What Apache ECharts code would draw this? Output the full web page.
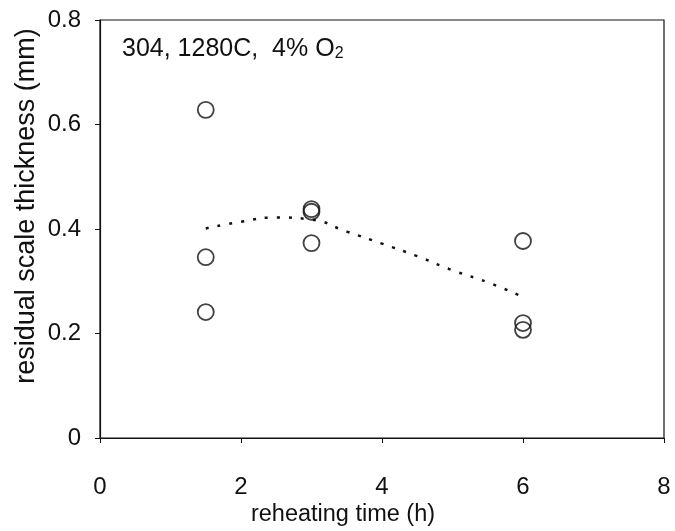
<!DOCTYPE html>
<html><head><meta charset="utf-8">
<script src="https://cdn.jsdelivr.net/npm/echarts@6/dist/echarts.min.js"></script>
<style>html,body{margin:0;padding:0;background:#fff}#c{width:675px;height:531px}</style>
</head><body><div id="c"></div>
<script>
// measured points
const pointsX = [1.5, 1.5, 1.5, 3, 3, 3, 6, 6, 6];
const pointsY = [0.628, 0.346, 0.241, 0.438, 0.433, 0.373, 0.377, 0.220, 0.207];
// dotted trend line
const trendX = [1.5, 2, 2.5, 3, 3.5, 4, 4.5, 5, 5.5, 6];
const trendY = [0.401, 0.414, 0.422, 0.418, 0.395, 0.372, 0.348, 0.321, 0.298, 0.270];
const xTicks = [0, 2, 4, 6, 8];
const yTicks = [0, 0.2, 0.4, 0.6, 0.8];
const xName = 'reheating time (h)';
const yName = 'residual scale thickness (mm)';

const font = 'Liberation Sans, Arial, sans-serif';
const chart = echarts.init(document.getElementById('c'));
chart.setOption({
  animation: false,
  backgroundColor: '#fff',
  title: {
    left: 117, top: 31,
    text: '{a|304, 1280C,  4% O}{s|2}',
    textStyle: {
      rich: {
        a: {fontFamily: font, fontSize: 25, fontWeight: 'normal', color: '#111'},
        s: {fontFamily: font, fontSize: 16, fontWeight: 'normal', color: '#111', verticalAlign: 'bottom', padding: [10, 0, 0, 0]}
      }
    }
  },
  graphic: [
    {type: 'text', x: 343, y: 515, style: {text: xName, fontFamily: font, fontSize: 23.5, fill: '#111', align: 'center', verticalAlign: 'middle'}},
    {type: 'text', x: 27, y: 206, rotation: Math.PI / 2, style: {text: yName, fontFamily: font, fontSize: 27, fill: '#111', align: 'center', verticalAlign: 'middle'}}
  ],
  grid: {left: 100, right: 11, top: 20, bottom: 93, show: true, borderColor: '#111', borderWidth: 1.2},
  xAxis: {
    type: 'value', min: xTicks[0], max: xTicks[xTicks.length - 1], interval: 2,
    axisLine: {lineStyle: {color: '#111', width: 1.2}},
    axisTick: {show: true, length: 5, lineStyle: {color: '#111'}},
    axisLabel: {margin: 37, fontFamily: font, fontSize: 24, color: '#111'},
    splitLine: {show: false}
  },
  yAxis: {
    type: 'value', min: yTicks[0], max: yTicks[yTicks.length - 1], interval: 0.2,
    axisLine: {lineStyle: {color: '#111', width: 1.2}},
    axisTick: {show: true, length: 5, lineStyle: {color: '#111'}},
    axisLabel: {margin: 19, fontFamily: font, fontSize: 24, color: '#111',
      formatter: v => (v === 0 ? '0' : v.toFixed(1))},
    splitLine: {show: false}
  },
  series: [
    {
      type: 'line', data: trendX.map((x, i) => [x, trendY[i]]),
      smooth: true, symbol: 'none',
      lineStyle: {color: '#111', width: 2.5, type: [3, 9]}
    },
    {
      type: 'scatter', data: pointsX.map((x, i) => [x, pointsY[i]]),
      symbol: 'circle', symbolSize: 16,
      itemStyle: {color: 'rgba(255,255,255,0)', borderColor: '#111', borderWidth: 1.8}
    }
  ]
});
</script></body></html>
